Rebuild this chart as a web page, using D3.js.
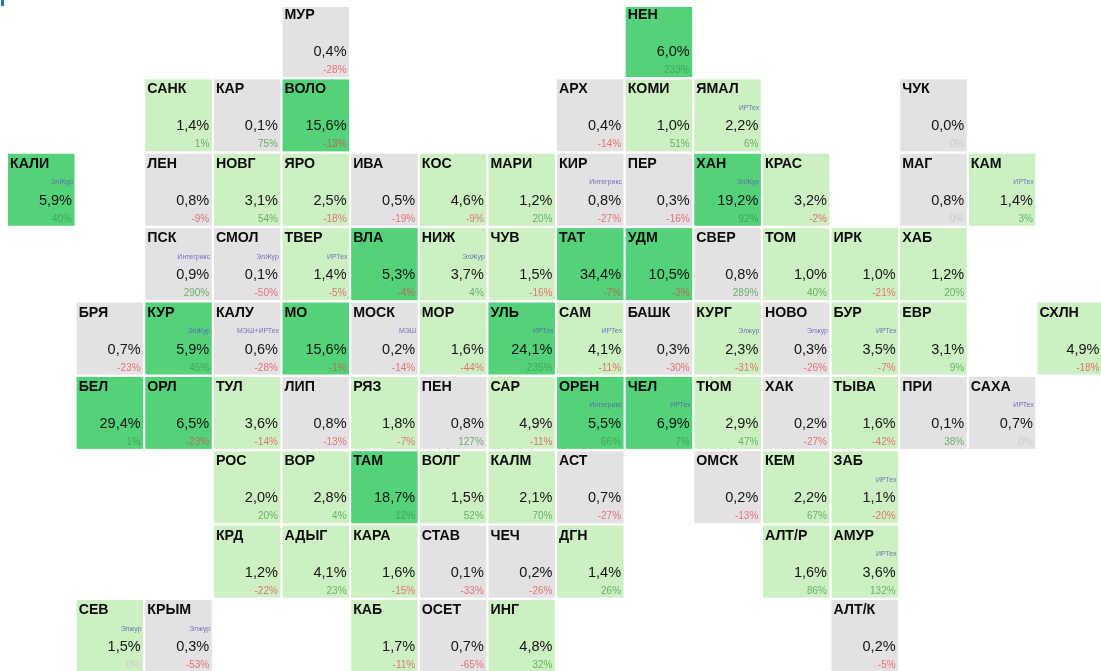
<!DOCTYPE html>
<html><head><meta charset="utf-8">
<script src="https://cdn.jsdelivr.net/npm/d3@7"></script>
<style>html,body{margin:0;padding:0;background:#fff;overflow:hidden}svg{display:block}text{font-family:"Liberation Sans",Arial,sans-serif}</style>
</head><body><div id="c"></div>
<script>
const codes=["МУР","НЕН","САНК","КАР","ВОЛО","АРХ","КОМИ","ЯМАЛ","ЧУК","КАЛИ","ЛЕН","НОВГ","ЯРО","ИВА","КОС","МАРИ","КИР","ПЕР","ХАН","КРАС","МАГ","КАМ","ПСК","СМОЛ","ТВЕР","ВЛА","НИЖ","ЧУВ","ТАТ","УДМ","СВЕР","ТОМ","ИРК","ХАБ","БРЯ","КУР","КАЛУ","МО","МОСК","МОР","УЛЬ","САМ","БАШК","КУРГ","НОВО","БУР","ЕВР","СХЛН","БЕЛ","ОРЛ","ТУЛ","ЛИП","РЯЗ","ПЕН","САР","ОРЕН","ЧЕЛ","ТЮМ","ХАК","ТЫВА","ПРИ","САХА","РОС","ВОР","ТАМ","ВОЛГ","КАЛМ","АСТ","ОМСК","КЕМ","ЗАБ","КРД","АДЫГ","КАРА","СТАВ","ЧЕЧ","ДГН","АЛТ/Р","АМУР","СЕВ","КРЫМ","КАБ","ОСЕТ","ИНГ","АЛТ/К"];
const cols=[4,9,2,3,4,8,9,10,13,0,2,3,4,5,6,7,8,9,10,11,13,14,2,3,4,5,6,7,8,9,10,11,12,13,1,2,3,4,5,6,7,8,9,10,11,12,13,15,1,2,3,4,5,6,7,8,9,10,11,12,13,14,3,4,5,6,7,8,10,11,12,3,4,5,6,7,8,11,12,1,2,5,6,7,12];
const rows=[0,0,1,1,1,1,1,1,1,2,2,2,2,2,2,2,2,2,2,2,2,2,3,3,3,3,3,3,3,3,3,3,3,3,4,4,4,4,4,4,4,4,4,4,4,4,4,4,5,5,5,5,5,5,5,5,5,5,5,5,5,5,6,6,6,6,6,6,6,6,6,7,7,7,7,7,7,7,7,8,8,8,8,8,8];
const shares=[0.4,6.0,1.4,0.1,15.6,0.4,1.0,2.2,0.0,5.9,0.8,3.1,2.5,0.5,4.6,1.2,0.8,0.3,19.2,3.2,0.8,1.4,0.9,0.1,1.4,5.3,3.7,1.5,34.4,10.5,0.8,1.0,1.0,1.2,0.7,5.9,0.6,15.6,0.2,1.6,24.1,4.1,0.3,2.3,0.3,3.5,3.1,4.9,29.4,6.5,3.6,0.8,1.8,0.8,4.9,5.5,6.9,2.9,0.2,1.6,0.1,0.7,2.0,2.8,18.7,1.5,2.1,0.7,0.2,2.2,1.1,1.2,4.1,1.6,0.1,0.2,1.4,1.6,3.6,1.5,0.3,1.7,0.7,4.8,0.2];
const changes=[-28,233,1,75,-13,-14,51,6,0,40,-9,54,-18,-19,-9,20,-27,-16,92,-2,0,3,290,-50,-5,-4,4,-16,-7,-3,289,40,-21,20,-23,45,-28,-1,-14,-44,235,-11,-30,-31,-26,-7,9,-18,1,-23,-14,-13,-7,127,-11,66,7,47,-27,-42,38,0,20,4,12,52,70,-27,-13,67,-20,-22,23,-15,-33,-26,26,86,132,0,-53,-11,-65,32,-5];
const vendorByCode={"ЯМАЛ":"ИРТех","КАЛИ":"ЭлЖур","КИР":"Интегрикс","ХАН":"ЭлЖур","КАМ":"ИРТех","ПСК":"Интегрикс","СМОЛ":"ЭлЖур","ТВЕР":"ИРТех","НИЖ":"ЭлЖур","КУР":"ЭлЖур","КАЛУ":"МЭШ+ИРТех","МОСК":"МЭШ","УЛЬ":"ИРТех","САМ":"ИРТех","КУРГ":"Элжур","НОВО":"Элжур","БУР":"ИРТех","ОРЕН":"Интегрикс","ЧЕЛ":"ИРТех","САХА":"ИРТех","ЗАБ":"ИРТех","АМУР":"ИРТех","СЕВ":"Элжур","КРЫМ":"Элжур"};

const W=1101,H=671,cw=66.5,ch=72;
const x=d3.scaleLinear().domain([0,15]).range([8,1037.5]);
const y=d3.scaleLinear().domain([0,8]).range([5,600]);
const fill=d3.scaleThreshold().domain([1,5]).range(["#e3e1e3","#cdf0c3","#52d27a"]);
const fmt=v=>v.toFixed(1).replace(".",",")+"%";
const chgColor=v=>v>0?"#3f9a3f":v<0?"#e5484d":"#c4c4c4";
const textX=d=>Math.min(cw-2.5,W-1.5-x(d.c));

const data=codes.map((code,i)=>({code,c:cols[i],r:rows[i],s:shares[i],d:changes[i],v:vendorByCode[code]||""}));
const svg=d3.select("#c").append("svg").attr("width",W).attr("height",H).attr("viewBox",[0,0,W,H]);
svg.append("defs").append("filter").attr("id","soft").attr("x",0).attr("y",0).attr("width","100%").attr("height","100%")
  .append("feGaussianBlur").attr("stdDeviation",0.35);
const root=svg.append("g").attr("filter","url(#soft)");
const g=root.selectAll("g.cell").data(data).join("g").attr("class","cell")
  .attr("transform",d=>`translate(${x(d.c)},${y(d.r)})`);
g.append("rect").attr("width",cw).attr("height",ch).attr("fill",d=>fill(d.s));
g.append("text").attr("x",2).attr("y",14).attr("font-size",14.2).attr("font-weight",700).attr("fill","#0d0d0d").text(d=>d.code);
g.filter(d=>d.v).append("text").attr("x",d=>textX(d)+1).attr("y",30.5).attr("text-anchor","end").attr("font-size",7).attr("fill","#5f5fb5").attr("opacity",.85).text(d=>d.v);
g.append("text").attr("x",textX).attr("y",51).attr("text-anchor","end").attr("font-size",14.5).attr("fill","#151515").text(d=>fmt(d.s));
g.append("text").attr("x",textX).attr("y",68).attr("text-anchor","end").attr("font-size",10).attr("fill",d=>chgColor(d.d)).attr("opacity",.72).text(d=>d.d+"%");
svg.append("rect").attr("x",0).attr("y",0).attr("width",W).attr("height",7).attr("fill","#fff");
svg.append("rect").attr("x",1).attr("y",0).attr("width",3).attr("height",6).attr("fill","#2f6fc4");
</script></body></html>
